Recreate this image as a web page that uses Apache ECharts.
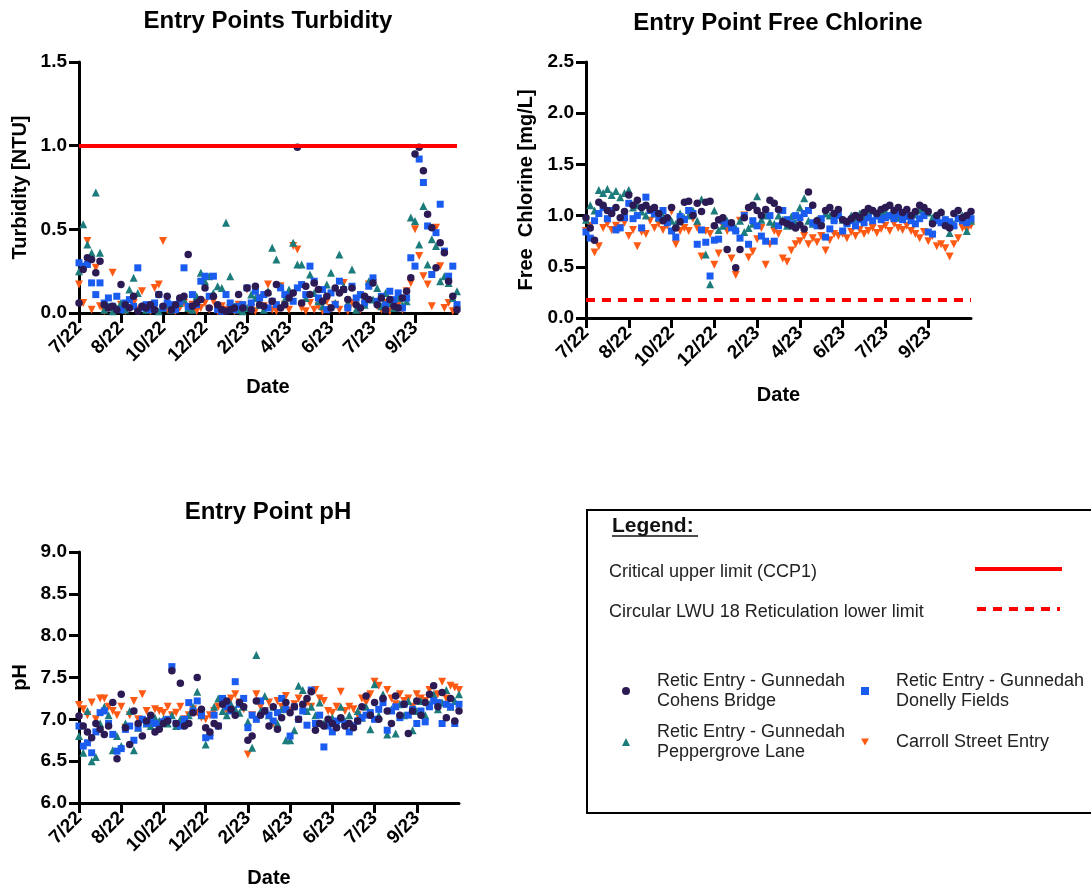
<!DOCTYPE html>
<html>
<head>
<meta charset="utf-8">
<script src="https://cdn.jsdelivr.net/npm/echarts@6/dist/echarts.min.js"></script>
<style>
  html, body { margin: 0; padding: 0; background: #fff; }
  #chart { width: 1091px; height: 890px; }
</style>
</head>
<body>
<div id="chart"></div>
<script>
// x axis: sample positions, a tick label every 10 samples
const tickLabels = ['7/22', '8/22', '10/22', '12/22', '2/23', '4/23', '6/23', '7/23', '9/23'];
const samplesPerTick = 10;
const samples = Array.from({ length: 91 }, (_, i) => String(i));

const criticalUpper = 1.0;   // turbidity CCP1
const reticLower = 0.18;     // free chlorine LWU 18

// ---- Turbidity [NTU]
const turbCohens = [0.06,0.26,0.33,0.32,0.24,0.31,0.05,0.03,0.04,0.02, 0.17,0.05,0.03,0.10,0.01,0.04,0.03,0.05,0.02,0.11,
  0.04,0.10,0.02,0.05,0.09,0.10,0.35,0.04,0.06,0.08, 0.15,0.03,0.10,0.05,0.02,0.01,0.02,0.03,0.11,0.03,
  0.15,0.02,0.16,0.05,0.04,0.12,0.07,0.17,0.03,0.05, 0.09,0.12,0.99,0.06,0.16,0.11,0.18,0.14,0.07,0.10,
  0.03,0.15,0.12,0.14,0.08,0.15,0.05,0.03,0.10,0.08, 0.18,0.05,0.09,0.02,0.08,0.04,0.03,0.09,0.13,0.21,
  0.95,0.99,0.85,0.59,0.51,0.27,0.42,0.36,0.19,0.10,0.02];
const turbDonelly = [0.30,0.28,0.29,0.18,0.11,0.18,0.06,0.09,0.04,0.10, 0.02,0.06,0.08,0.04,0.27,0.03,0.05,0.02,0.06,0.11,
  0.03,0.06,0.05,0.02,0.07,0.27,0.04,0.11,0.05,0.19, 0.22,0.10,0.22,0.02,0.01,0.11,0.06,0.02,0.04,0.05,
  0.15,0.06,0.13,0.09,0.11,0.03,0.07,0.05,0.15,0.11, 0.10,0.07,0.15,0.17,0.11,0.28,0.19,0.09,0.14,0.02,
  0.12,0.05,0.19,0.14,0.03,0.16,0.09,0.11,0.06,0.16, 0.21,0.07,0.10,0.05,0.13,0.08,0.12,0.03,0.09,0.33,
  0.28,0.92,0.78,0.52,0.23,0.48,0.65,0.37,0.22,0.28,0.05];
const turbPeppergrove = [0.25,0.53,0.41,0.36,0.72,0.36,0.02,0.04,0.01,0.03, 0.06,0.02,0.14,0.21,0.12,0.04,0.02,0.05,0.03,0.01,
  0.03,0.05,0.02,0.04,0.06,0.08,0.03,0.02,0.10,0.24, 0.19,0.22,0.12,0.16,0.15,0.54,0.22,0.04,0.02,0.01,
  0.03,0.11,0.09,0.05,0.02,0.13,0.39,0.32,0.16,0.08, 0.14,0.42,0.29,0.29,0.09,0.23,0.12,0.07,0.04,0.17,
  0.24,0.06,0.35,0.16,0.06,0.26,0.02,0.11,0.05,0.19, 0.08,0.15,0.04,0.12,0.06,0.03,0.09,0.05,0.07,0.57,
  0.55,0.41,0.64,0.29,0.44,0.40,0.19,0.22,0.18,0.09,0.13];
const turbCarroll = [0.17,0.06,0.43,0.02,0.27,0.04,0.01,0.03,0.24,0.02, 0.05,0.01,0.03,0.06,0.02,0.13,0.04,0.01,0.15,0.17,
  0.43,0.02,0.04,0.01,0.03,0.06,0.02,0.05,0.01,0.03, 0.06,0.02,0.07,0.01,0.04,0.02,0.03,0.01,0.05,0.02,
  0.14,0.03,0.01,0.09,0.04,0.17,0.02,0.01,0.16,0.05, 0.02,0.40,0.38,0.03,0.01,0.06,0.02,0.04,0.01,0.07,
  0.03,0.05,0.02,0.18,0.01,0.06,0.03,0.02,0.05,0.17, 0.18,0.04,0.02,0.06,0.01,0.03,0.05,0.02,0.13,0.18,
  0.50,0.34,0.22,0.17,0.04,0.51,0.28,0.03,0.06,0.01,0.02];

// ---- Free chlorine [mg/L]
const clCohens = [0.98,0.88,0.76,1.13,1.10,1.05,1.02,1.08,0.98,1.04, 1.20,1.10,1.15,1.08,1.10,1.06,1.08,1.02,0.95,0.98,
  1.08,0.88,0.94,1.13,1.14,1.00,1.12,1.04,1.13,1.14, 0.90,0.96,0.98,0.67,0.93,0.49,0.67,0.98,1.08,1.10,
  1.05,1.00,1.06,1.15,1.12,1.06,0.94,0.92,0.90,0.88, 0.91,0.87,1.23,1.10,0.95,0.90,1.05,1.08,1.02,1.06,
  0.96,0.94,0.97,1.00,0.98,1.03,1.07,1.05,1.02,1.06, 1.08,1.10,1.05,1.08,1.03,1.06,1.00,1.04,1.10,1.08,
  1.04,0.92,1.00,1.03,0.90,0.88,1.02,1.05,0.98,1.00,1.04];
const clDonelly = [0.84,0.78,0.95,1.02,1.08,0.97,1.05,0.86,0.88,0.98, 1.12,0.97,1.00,0.88,1.18,1.05,1.02,0.98,1.05,0.93,
  0.85,0.79,0.99,0.96,1.05,1.02,0.72,0.86,0.74,0.41, 0.76,0.77,0.95,0.92,0.88,0.85,0.78,1.00,0.72,0.95,
  0.90,0.80,0.75,1.00,0.75,0.90,1.05,0.96,0.92,1.00, 0.98,1.02,1.05,0.93,0.90,0.97,0.79,0.87,0.95,1.00,
  0.85,0.92,0.95,0.90,0.96,0.93,0.98,0.95,1.00,0.96, 0.98,1.00,0.97,1.02,0.96,0.99,0.95,0.92,0.97,1.00,
  0.84,0.82,0.95,0.93,0.96,0.94,0.90,0.97,0.95,0.93,0.97];
const clPeppergrove = [0.96,1.10,1.05,1.25,1.22,1.26,1.20,1.24,1.18,1.22, 1.25,1.08,1.10,1.04,1.00,1.06,1.02,0.98,1.00,0.96,
  0.95,0.92,1.02,0.98,1.00,1.05,0.95,1.16,0.62,0.33, 1.05,0.86,0.90,0.95,0.92,0.88,0.95,0.84,0.88,0.92,
  1.19,0.96,1.00,0.94,0.92,1.00,0.96,0.90,0.99,0.93, 1.08,1.17,0.95,0.92,0.96,0.95,1.02,1.00,0.98,1.04,
  0.96,0.94,1.00,0.97,1.02,0.99,1.03,1.05,1.00,1.02, 1.04,1.00,1.03,0.98,1.02,1.00,0.97,1.01,1.05,1.07,
  1.03,0.98,1.00,1.04,0.96,0.83,0.92,0.98,1.00,0.85,0.95];
const clCarroll = [0.85,0.90,0.64,0.70,0.88,0.92,0.86,0.90,0.88,0.93, 0.80,0.86,0.70,0.84,0.82,0.95,0.88,0.92,0.86,0.90,
  1.04,0.72,0.85,0.88,0.85,0.97,0.88,0.60,0.85,0.82, 0.52,0.63,0.90,0.85,0.58,0.42,0.95,1.00,0.59,0.65,
  0.77,0.88,0.52,0.72,0.85,0.82,0.58,0.55,0.66,0.72, 0.75,0.80,0.72,0.78,0.74,0.80,0.66,0.76,0.82,0.80,
  0.82,0.78,0.84,0.80,0.86,0.82,0.85,0.88,0.83,0.87, 0.90,0.85,0.92,0.88,0.86,0.90,0.85,0.82,0.78,0.84,
  0.75,0.80,0.70,0.72,0.68,0.60,0.72,0.78,0.88,0.86,0.90];

// ---- pH
const phCohens = [7.04,6.92,6.85,6.78,6.95,6.88,6.82,6.92,7.20,6.53, 7.30,6.90,6.70,7.10,6.95,6.80,6.98,7.05,6.85,6.88,
  6.95,6.98,7.58,6.95,7.43,6.92,6.95,7.08,7.50,7.12, 6.90,6.85,6.95,6.92,7.18,7.22,7.12,7.05,7.20,7.15,
  6.75,6.80,7.22,7.05,7.10,6.92,7.15,6.88,7.02,7.20, 7.08,7.15,7.00,7.18,7.25,7.33,6.87,6.95,6.92,7.00,
  6.95,6.90,7.02,6.92,6.95,6.90,6.98,7.15,7.28,7.05, 7.20,7.00,7.25,7.10,6.95,7.28,7.05,7.18,6.83,7.10,
  7.22,7.05,7.20,7.30,7.40,7.15,7.32,7.02,7.25,6.98,7.10];
const phDonelly = [6.92,6.68,6.72,6.60,6.85,7.08,7.10,6.95,6.82,6.62, 6.65,6.88,6.92,6.75,6.90,7.00,6.95,6.98,6.95,6.92,
  6.97,7.00,7.63,6.95,6.92,7.00,7.20,7.10,7.22,7.05, 6.78,6.80,7.05,6.92,7.25,7.15,7.10,7.45,7.18,7.25,
  6.90,7.05,7.00,7.22,7.10,7.05,6.98,7.08,7.25,7.12, 6.80,7.15,7.00,7.10,6.93,7.35,6.95,7.05,6.67,6.92,
  6.85,6.98,7.00,6.95,6.85,6.92,6.98,7.02,7.05,7.08, 7.00,7.12,7.20,6.87,7.10,7.15,7.02,7.18,7.05,7.12,
  6.95,7.10,6.97,7.15,7.22,7.20,6.95,7.18,7.15,6.95,7.18];
const phPeppergrove = [6.80,6.60,7.10,6.50,6.55,6.95,7.15,7.05,6.63,6.80, 6.68,6.95,7.10,6.63,6.90,7.00,6.95,6.92,7.02,6.98,
  7.00,6.95,7.05,6.92,7.00,6.98,7.05,7.15,7.33,7.05, 6.70,6.85,7.15,7.25,7.10,7.05,7.18,7.12,7.08,7.15,
  6.97,6.66,7.77,7.10,7.28,7.05,7.15,6.95,7.12,6.75, 6.75,6.87,7.40,7.35,7.10,7.15,7.05,7.20,6.95,7.00,
  7.02,6.95,7.15,6.98,7.05,6.92,7.10,7.02,7.15,6.88, 7.42,7.05,7.30,6.82,7.12,6.83,7.18,7.05,7.22,6.87,
  7.10,7.22,7.05,7.18,7.30,7.12,7.20,7.35,7.15,7.22,7.30];
const phCarroll = [7.17,7.12,7.05,7.20,7.00,7.25,7.25,7.15,7.10,7.05, 7.15,6.90,7.05,7.22,7.00,7.30,7.10,7.02,7.12,7.10,
  7.08,7.15,7.05,7.08,7.15,7.00,7.05,7.12,7.08,7.02, 7.00,7.05,7.10,7.15,7.20,7.10,7.25,7.30,7.20,7.12,
  6.58,7.05,7.30,7.15,7.10,7.20,6.95,7.22,7.15,7.28, 7.10,7.18,7.25,7.12,7.20,7.15,7.35,7.25,7.22,7.10,
  7.08,7.15,7.33,7.10,7.15,7.12,7.05,7.25,7.20,7.30, 7.45,7.40,7.20,7.35,7.25,7.18,7.30,7.22,7.25,7.15,
  7.30,7.25,7.22,7.35,7.28,7.30,7.45,7.25,7.40,7.38,7.35];

const FONT = '"Liberation Sans", Arial, Helvetica, sans-serif';
const BLACK = '#000';

// drawn in this order, Cohens Bridge on top
const stations = [
  { name: 'Carroll Street Entry', symbol: 'triangle', rotate: 180, size: 8, color: '#FF5A14',
    legendIcon: 'path://M0,0 L10,0 L5,9 Z' },
  { name: 'Retic Entry - Gunnedah\nPeppergrove Lane', symbol: 'triangle', rotate: 0, size: 8, color: '#1C7C7C' },
  { name: 'Retic Entry - Gunnedah\nDonelly Fields', symbol: 'rect', rotate: 0, size: 7, color: '#1B5CF0' },
  { name: 'Retic Entry - Gunnedah\nCohens Bridge', symbol: 'circle', rotate: 0, size: 7.5, color: '#2B1A53' }
];

const isTick = (idx) => idx % samplesPerTick === 0 && idx < samples.length - 1;

const axisLineStyle = { color: BLACK, width: 3 };
const boldText = (size) => ({ fontFamily: FONT, fontWeight: 'bold', fontSize: size, color: BLACK });

function xAxisFor(gridIndex, nameGap) {
  return {
    type: 'category', gridIndex, data: samples, boundaryGap: false,
    name: 'Date', nameLocation: 'middle', nameGap,
    nameTextStyle: boldText(20),
    axisLine: { lineStyle: axisLineStyle },
    axisTick: { length: 10, interval: isTick, lineStyle: axisLineStyle },
    axisLabel: Object.assign(boldText(19), {
      interval: isTick, rotate: 45, margin: 12,
      formatter: (v) => tickLabels[Number(v) / samplesPerTick] || ''
    }),
    splitLine: { show: false }
  };
}

function yAxisFor(gridIndex, name, min, max, nameGap) {
  return {
    type: 'value', gridIndex, min, max, interval: 0.5,
    name, nameLocation: 'middle', nameGap,
    nameTextStyle: boldText(20),
    axisLine: { show: true, lineStyle: axisLineStyle },
    axisTick: { show: true, length: 10, lineStyle: axisLineStyle },
    axisLabel: Object.assign(boldText(19), { margin: 12, formatter: (v) => v.toFixed(1) }),
    splitLine: { show: false }
  };
}

function scatterSet(gridIndex, arrays, limit) {
  return stations.map((st, k) => {
    const s = {
      type: 'scatter', name: st.name,
      xAxisIndex: gridIndex, yAxisIndex: gridIndex,
      data: arrays[k],
      symbol: st.symbol, symbolRotate: st.rotate, symbolSize: st.size,
      itemStyle: { color: st.color, opacity: 1 },
      emphasis: { disabled: true }
    };
    if (k === 0 && limit) {
      s.markLine = {
        silent: true, symbol: 'none', label: { show: false },
        lineStyle: { color: '#FF0000', width: 4, type: limit.type, opacity: 1 },
        data: [{ yAxis: limit.value }]
      };
    }
    return s;
  });
}

const legendText = { fontFamily: FONT, fontSize: 18, color: '#222', lineHeight: 20, padding: [0, 0, 0, 22] };
const legendItem = (st) => ({ name: st.name, icon: st.legendIcon || st.symbol });

const chart = echarts.init(document.getElementById('chart'));

chart.setOption({
  animation: false,
  backgroundColor: '#fff',
  title: [
    { text: 'Entry Points Turbidity', left: 263, top: 4, textAlign: 'center', textStyle: boldText(24) },
    { text: 'Entry Point Free Chlorine', left: 773, top: 6, textAlign: 'center', textStyle: boldText(24) },
    { text: 'Entry Point pH', left: 263, top: 495, textAlign: 'center', textStyle: boldText(24) }
  ],
  grid: [
    { left: 79, top: 62, width: 378, height: 251 },
    { left: 586, top: 62, width: 385, height: 256 },
    { left: 79, top: 552, width: 380, height: 251 }
  ],
  xAxis: [xAxisFor(0, 64), xAxisFor(1, 67), xAxisFor(2, 65)],
  yAxis: [
    yAxisFor(0, 'Turbidity [NTU]', 0, 1.5, 49),
    yAxisFor(1, 'Free  Chlorine [mg/L]', 0, 2.5, 50),
    yAxisFor(2, 'pH', 6, 9, 49)
  ],
  legend: [
    {
      left: 617, top: 666, orient: 'vertical', itemGap: 11, itemWidth: 8, itemHeight: 8,
      selectedMode: false,
      data: [legendItem(stations[3]), legendItem(stations[1])],
      textStyle: legendText
    },
    {
      left: 856, top: 666, orient: 'vertical', itemGap: 21, itemWidth: 8, itemHeight: 8,
      selectedMode: false,
      data: [legendItem(stations[2]), legendItem(stations[0])],
      textStyle: legendText
    }
  ],
  graphic: [
    { type: 'rect', shape: { x: 587, y: 510, width: 520, height: 303 },
      style: { fill: 'none', stroke: BLACK, lineWidth: 2 }, silent: true },
    { type: 'text', x: 612, y: 516,
      style: { text: 'Legend:', font: 'bold 21px ' + FONT, fill: '#111' } },
    { type: 'line', shape: { x1: 612, y1: 536, x2: 698, y2: 536 },
      style: { stroke: '#111', lineWidth: 1.5 } },
    { type: 'text', x: 609, y: 572,
      style: { text: 'Critical upper limit (CCP1)', font: '18px ' + FONT, fill: '#222', verticalAlign: 'middle' } },
    { type: 'line', shape: { x1: 975, y1: 569, x2: 1062, y2: 569 },
      style: { stroke: '#FF0000', lineWidth: 4 } },
    { type: 'text', x: 609, y: 612,
      style: { text: 'Circular LWU 18 Reticulation lower limit', font: '18px ' + FONT, fill: '#222', verticalAlign: 'middle' } },
    { type: 'line', shape: { x1: 977, y1: 609, x2: 1060, y2: 609 },
      style: { stroke: '#FF0000', lineWidth: 4, lineDash: [9, 7] } }
  ],
  series: [].concat(
    scatterSet(0, [turbCarroll, turbPeppergrove, turbDonelly, turbCohens], { value: criticalUpper, type: 'solid' }),
    scatterSet(1, [clCarroll, clPeppergrove, clDonelly, clCohens], { value: reticLower, type: [9, 7] }),
    scatterSet(2, [phCarroll, phPeppergrove, phDonelly, phCohens], null)
  )
});
</script>
</body>
</html>
